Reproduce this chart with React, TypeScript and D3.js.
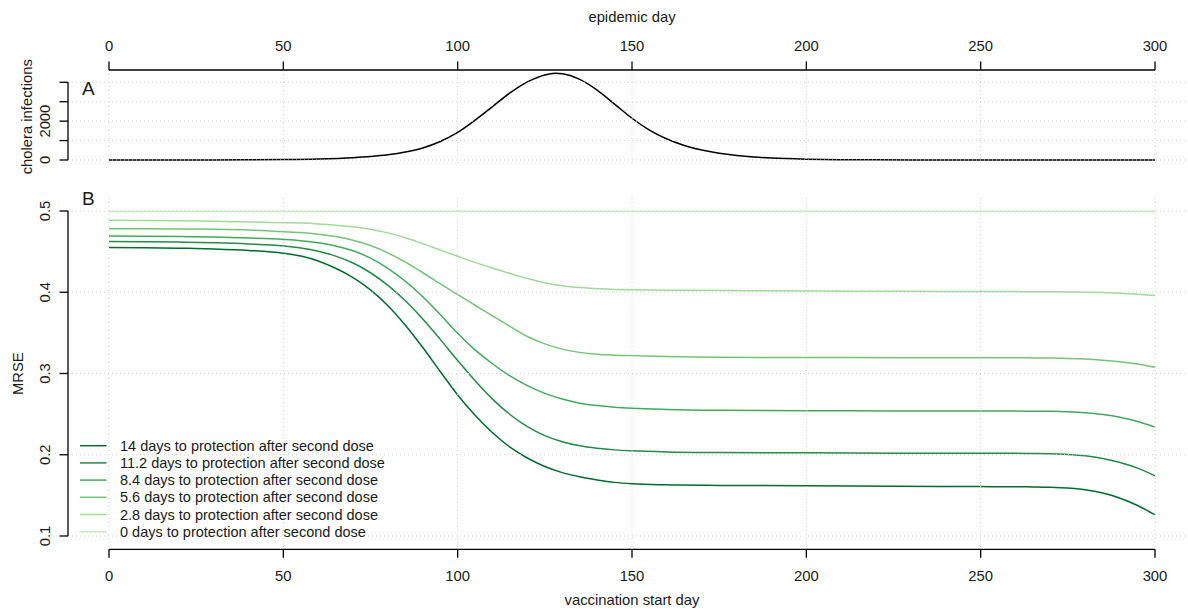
import React from "react";
import * as d3 from "d3";

const xTicks = [0, 50, 100, 150, 200, 250, 300];
const yTicksA = [0, 1000, 2000, 3000, 4000];
const yTickLabelsA = ["0", "", "2000", "", ""];
const yTicksB = [0.1, 0.2, 0.3, 0.4, 0.5];

const epiDays = [0, 10, 20, 30, 40, 50, 60, 70, 75, 80, 85, 90, 95, 100, 105, 110, 115, 120, 125, 128, 130, 135, 140, 145, 150, 155, 160, 165, 170, 175, 180, 185, 190, 200, 210, 220, 240, 260, 280, 300];
const epiCases = [0, 1, 2, 4, 10, 22, 52, 120, 180, 270, 410, 620, 950, 1420, 2050, 2750, 3450, 4020, 4380, 4460, 4440, 4150, 3600, 2880, 2150, 1540, 1080, 750, 510, 345, 230, 150, 98, 42, 17, 7, 1.5, 0.3, 0, 0];

const days = [0, 10, 20, 30, 40, 50, 55, 60, 65, 70, 75, 80, 85, 90, 95, 100, 105, 110, 115, 120, 125, 130, 135, 140, 145, 150, 160, 175, 200, 225, 250, 260, 265, 270, 275, 280, 285, 290, 295, 300];

const mrse14 = [0.4552, 0.4548, 0.4542, 0.4532, 0.4514, 0.448, 0.4445, 0.4385, 0.4295, 0.418, 0.403, 0.3835, 0.3595, 0.332, 0.3025, 0.2735, 0.2485, 0.227, 0.2095, 0.196, 0.1855, 0.178, 0.1728, 0.169, 0.166, 0.1643, 0.163, 0.1623, 0.1618, 0.1612, 0.1608, 0.1606, 0.1604, 0.16, 0.159, 0.1568, 0.1528, 0.1465, 0.1375, 0.126];
const mrse11 = [0.4625, 0.4622, 0.4617, 0.4608, 0.4594, 0.457, 0.4545, 0.4505, 0.4445, 0.436, 0.424, 0.4085, 0.3895, 0.367, 0.342, 0.316, 0.291, 0.2685, 0.2495, 0.2345, 0.2235, 0.216, 0.211, 0.208, 0.206, 0.2048, 0.2035, 0.2028, 0.2024, 0.202, 0.2018, 0.2017, 0.2015, 0.2012, 0.2004, 0.1987, 0.1955, 0.1905, 0.1835, 0.174];
const mrse8 = [0.4692, 0.469, 0.4686, 0.4679, 0.4667, 0.465, 0.4635, 0.461, 0.457, 0.451, 0.442, 0.4295, 0.4135, 0.3945, 0.3725, 0.3495, 0.329, 0.312, 0.297, 0.285, 0.2755, 0.2685, 0.2635, 0.2605, 0.2585, 0.2572, 0.2558, 0.2548, 0.2543, 0.254, 0.2538, 0.2537, 0.2536, 0.2534, 0.2529, 0.2518, 0.2496, 0.2461, 0.2409, 0.234];
const mrse5 = [0.4782, 0.4781, 0.4779, 0.4775, 0.4766, 0.4745, 0.4735, 0.4715, 0.4685, 0.464, 0.4575, 0.4485, 0.437, 0.424, 0.4105, 0.397, 0.384, 0.371, 0.358, 0.3455, 0.3365, 0.33, 0.326, 0.3237, 0.3226, 0.322, 0.3208, 0.32, 0.3197, 0.3195, 0.3194, 0.3193, 0.3192, 0.319, 0.3186, 0.3178, 0.3164, 0.3144, 0.3116, 0.3076];
const mrse2 = [0.4886, 0.4884, 0.488, 0.4874, 0.4866, 0.4856, 0.4851, 0.4841, 0.4826, 0.4806, 0.4776, 0.4731, 0.4671, 0.4598, 0.452, 0.4443, 0.4368, 0.4298, 0.4231, 0.417, 0.4118, 0.408, 0.4057, 0.4043, 0.4035, 0.4031, 0.4026, 0.4021, 0.4016, 0.4012, 0.4009, 0.4008, 0.4007, 0.4006, 0.4004, 0.4001, 0.3996, 0.3988, 0.3976, 0.396];
const mrse0 = [0.4995, 0.4995, 0.4995, 0.4995, 0.4995, 0.4995, 0.4995, 0.4995, 0.4995, 0.4995, 0.4995, 0.4995, 0.4995, 0.4995, 0.4995, 0.4995, 0.4995, 0.4995, 0.4995, 0.4995, 0.4995, 0.4995, 0.4995, 0.4995, 0.4995, 0.4995, 0.4995, 0.4995, 0.4995, 0.4995, 0.4995, 0.4995, 0.4995, 0.4995, 0.4995, 0.4995, 0.4995, 0.4995, 0.4995, 0.4995];

const seriesLabels = [
  "14 days to protection after second dose",
  "11.2 days to protection after second dose",
  "8.4 days to protection after second dose",
  "5.6 days to protection after second dose",
  "2.8 days to protection after second dose",
  "0 days to protection after second dose",
];
const seriesColors = ["#006d2c", "#238b45", "#41ab5d", "#74c476", "#a1d99b", "#c7e9c0"];
const seriesValues = [mrse14, mrse11, mrse8, mrse5, mrse2, mrse0];

const FONT = "'Liberation Sans', Arial, Helvetica, sans-serif";
const TXT = "#1a1a1a";
const GRID = "#cfcfcf";
const FS = 14.8;

export default function App() {
  const W = 1188;
  const H = 612;
  const x = d3.scaleLinear().domain([0, 300]).range([109, 1155]);
  const yA = d3.scaleLinear().domain([0, 4000]).range([160, 82.3]);
  const yB = d3.scaleLinear().domain([0.1, 0.5]).range([536, 211]);

  const plotLeft = 68;
  const plotRight = 1197;
  const aTop = 70, aBottom = 163.5;
  const bTop = 198, bBottom = 549.3;

  const epiLine = d3
    .line<number>()
    .x((_, i) => x(epiDays[i]))
    .y((d) => yA(d))
    .curve(d3.curveMonotoneX);

  const mLine = d3
    .line<number>()
    .x((_, i) => x(days[i]))
    .y((d) => yB(d))
    .curve(d3.curveMonotoneX);

  const tick = 8.5;

  return (
    <svg
      width={W}
      height={H}
      style={{ position: "absolute", left: 0, top: 0, background: "#fff" }}
      fontFamily={FONT}
    >
      <rect x={0} y={0} width={W} height={H} fill="#fff" />

      {/* data lines (drawn under grid, as in R) */}
      <path d={epiLine(epiCases) || ""} fill="none" stroke="#000" strokeWidth={1.5} />
      {seriesValues
        .map((vals, i) => ({ vals, i }))
        .reverse()
        .map(({ vals, i }) => (
          <path
            key={"s" + i}
            d={mLine(vals) || ""}
            fill="none"
            stroke={seriesColors[i]}
            strokeWidth={1.5}
          />
        ))}

      {/* grids */}
      <g stroke={GRID} strokeWidth={1} strokeDasharray="1,3" fill="none">
        {xTicks.map((t) => (
          <line key={"ga" + t} x1={x(t)} x2={x(t)} y1={aTop} y2={aBottom} />
        ))}
        {yTicksA.map((t) => (
          <line key={"gah" + t} x1={plotLeft} x2={plotRight} y1={yA(t)} y2={yA(t)} />
        ))}
        {xTicks.map((t) => (
          <line key={"gb" + t} x1={x(t)} x2={x(t)} y1={bTop} y2={bBottom} />
        ))}
        {yTicksB.map((t) => (
          <line key={"gbh" + t} x1={plotLeft} x2={plotRight} y1={yB(t)} y2={yB(t)} />
        ))}
      </g>

      {/* top axis */}
      <text x={x(150)} y={22} textAnchor="middle" fontSize={FS} fill={TXT}>
        epidemic day
      </text>
      <line x1={x(0)} x2={x(300)} y1={aTop} y2={aTop} stroke="#000" strokeWidth={1.3} />
      {xTicks.map((t) => (
        <g key={"tt" + t}>
          <line x1={x(t)} x2={x(t)} y1={aTop} y2={aTop - tick} stroke="#000" strokeWidth={1.3} />
          <text x={x(t)} y={51} textAnchor="middle" fontSize={FS} fill={TXT}>
            {t}
          </text>
        </g>
      ))}

      {/* panel A left axis */}
      <line x1={plotLeft} x2={plotLeft} y1={yA(4000)} y2={yA(0)} stroke="#000" strokeWidth={1.3} />
      {yTicksA.map((t, i) => (
        <g key={"ya" + t}>
          <line x1={plotLeft - tick} x2={plotLeft} y1={yA(t)} y2={yA(t)} stroke="#000" strokeWidth={1.3} />
          {yTickLabelsA[i] && (
            <text
              transform={`translate(50,${yA(t)}) rotate(-90)`}
              textAnchor="middle"
              fontSize={FS}
              fill={TXT}
            >
              {yTickLabelsA[i]}
            </text>
          )}
        </g>
      ))}
      <text
        transform={`translate(31.5,${(aTop + aBottom) / 2}) rotate(-90)`}
        textAnchor="middle"
        fontSize={FS}
        fill={TXT}
      >
        cholera infections
      </text>
      <text x={82} y={94.5} fontSize={19} fill={TXT}>
        A
      </text>

      {/* panel B */}
      <line x1={plotLeft} x2={plotLeft} y1={yB(0.5)} y2={yB(0.1)} stroke="#000" strokeWidth={1.3} />
      {yTicksB.map((t) => (
        <g key={"yb" + t}>
          <line x1={plotLeft - tick} x2={plotLeft} y1={yB(t)} y2={yB(t)} stroke="#000" strokeWidth={1.3} />
          <text
            transform={`translate(50,${yB(t)}) rotate(-90)`}
            textAnchor="middle"
            fontSize={FS}
            fill={TXT}
          >
            {t.toFixed(1)}
          </text>
        </g>
      ))}
      <text
        transform={`translate(23,${(bTop + bBottom) / 2}) rotate(-90)`}
        textAnchor="middle"
        fontSize={FS}
        fill={TXT}
      >
        MRSE
      </text>
      <text x={82} y={205} fontSize={19} fill={TXT}>
        B
      </text>

      {/* bottom axis */}
      <line x1={x(0)} x2={x(300)} y1={bBottom} y2={bBottom} stroke="#000" strokeWidth={1.3} />
      {xTicks.map((t) => (
        <g key={"bt" + t}>
          <line x1={x(t)} x2={x(t)} y1={bBottom} y2={bBottom + tick} stroke="#000" strokeWidth={1.3} />
          <text x={x(t)} y={580.5} textAnchor="middle" fontSize={FS} fill={TXT}>
            {t}
          </text>
        </g>
      ))}
      <text x={x(150)} y={605} textAnchor="middle" fontSize={FS} fill={TXT}>
        vaccination start day
      </text>

      {/* legend */}
      {seriesLabels.map((lab, i) => {
        const ly = 445.7 + i * 17.2;
        return (
          <g key={"lg" + i}>
            <line x1={80} x2={106.5} y1={ly} y2={ly} stroke={seriesColors[i]} strokeWidth={1.5} />
            <text x={120} y={ly + 5.1} fontSize={14.5} fill={TXT}>
              {lab}
            </text>
          </g>
        );
      })}
    </svg>
  );
}
